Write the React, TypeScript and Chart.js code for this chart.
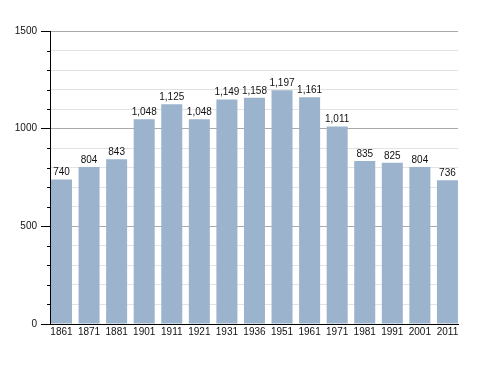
import React, { useEffect, useRef } from "react";
import { Chart, registerables } from "chart.js";

Chart.register(...registerables);

const years = ["1861", "1871", "1881", "1901", "1911", "1921", "1931", "1936", "1951", "1961", "1971", "1981", "1991", "2001", "2011"];
const population = [740, 804, 843, 1048, 1125, 1048, 1149, 1158, 1197, 1161, 1011, 835, 825, 804, 736];
const yMax = 1500;
const majorStep = 500;
const minorStep = 100;

const FONT = "'Liberation Sans', Arial, sans-serif";

const labelPlugin = {
  id: "barLabels",
  afterDatasetsDraw(chart: any) {
    const ctx = chart.ctx;
    const meta = chart.getDatasetMeta(0);
    ctx.save();
    ctx.font = `10px ${FONT}`;
    ctx.fillStyle = "#111";
    ctx.textAlign = "center";
    ctx.textBaseline = "bottom";
    meta.data.forEach((bar: any, i: number) => {
      ctx.fillText(population[i].toLocaleString("en-US"), bar.x, bar.y - 2);
    });
    ctx.restore();
  },
};

const minorTickPlugin = {
  id: "minorTicks",
  afterDraw(chart: any) {
    const ctx = chart.ctx;
    const y = chart.scales.y;
    const left = chart.chartArea.left;
    ctx.save();
    ctx.strokeStyle = "#000";
    ctx.lineWidth = 1;
    for (let v = 0; v <= yMax; v += minorStep) {
      if (v % majorStep === 0) continue;
      const py = Math.round(y.getPixelForValue(v)) + 0.5;
      ctx.beginPath();
      ctx.moveTo(left - 3, py);
      ctx.lineTo(left, py);
      ctx.stroke();
    }
    ctx.restore();
  },
};

export default function App() {
  const ref = useRef<HTMLCanvasElement>(null);
  useEffect(() => {
    if (!ref.current) return;
    const chart = new Chart(ref.current, {
      type: "bar",
      data: {
        datasets: [
          {
            data: population.map((v, i) => ({ x: i, y: v })),
            backgroundColor: "#9bb3cd",
            barPercentage: 0.762,
            categoryPercentage: 1,
          },
        ],
      },
      options: {
        animation: false,
        responsive: false,
        maintainAspectRatio: false,
        layout: { padding: { left: 0, right: 30, top: 31, bottom: 0 } },
        plugins: { legend: { display: false }, tooltip: { enabled: false } },
        scales: {
          x: {
            type: "linear",
            min: -0.417,
            max: 14.383,
            offset: false,
            grid: { display: false, drawTicks: false, tickLength: 0 },
            border: { display: true, color: "#000", width: 1 },
            afterBuildTicks: (s: any) => {
              s.ticks = years.map((_, i) => ({ value: i }));
            },
            ticks: {
              color: "#111",
              font: { family: FONT, size: 10 },
              padding: 2,
              maxRotation: 0,
              autoSkip: false,
              callback: (v: any) => years[Math.round(Number(v))] ?? "",
            },
            afterFit: (s: any) => { s.height = 49; },
          },
          y: {
            min: 0,
            max: yMax,
            border: { display: true, color: "#000", width: 1 },
            grid: {
              color: (c: any) => (c.tick && c.tick.value % majorStep === 0 ? "#aaaaaa" : "#e3e3e3"),
              tickColor: (c: any) => (c.tick && c.tick.value % majorStep === 0 ? "#000" : "transparent"),
              tickLength: 9,
              drawTicks: true,
            },
            ticks: {
              stepSize: minorStep,
              color: "#111",
              font: { family: FONT, size: 10 },
              padding: 4,
              callback: (v: any) => (Number(v) % majorStep === 0 ? String(v) : ""),
            },
            afterFit: (s: any) => { s.width = 50; },
          },
        },
      },
      plugins: [labelPlugin, minorTickPlugin],
    });
    return () => chart.destroy();
  }, []);
  return (
    <div style={{ position: "absolute", left: 0, top: 0, width: 488, height: 373, background: "#fff" }}>
      <canvas ref={ref} width={488} height={373} style={{ width: 488, height: 373 }} />
    </div>
  );
}
